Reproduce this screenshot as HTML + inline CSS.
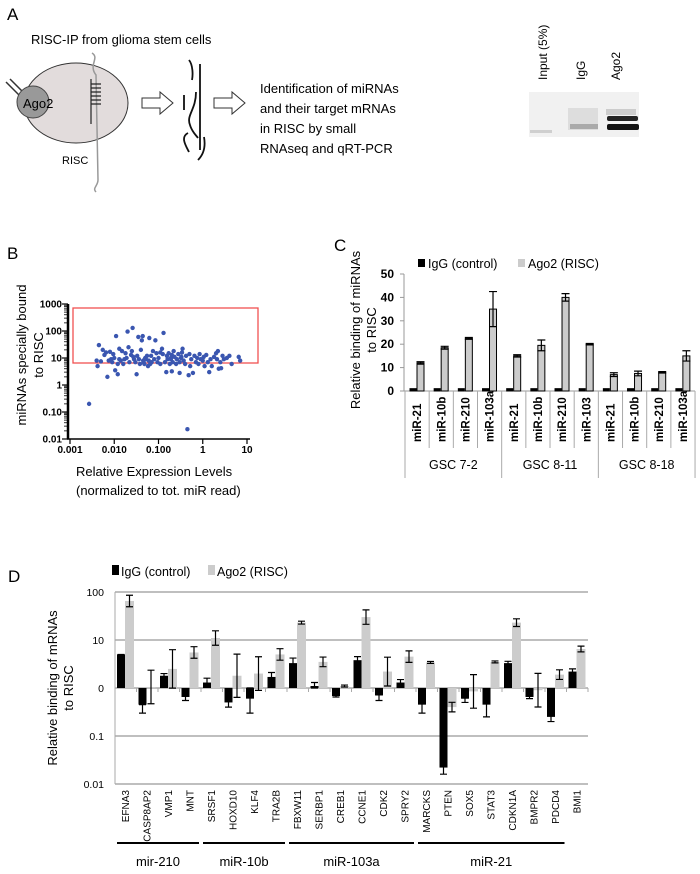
<!DOCTYPE html>
<html><head><meta charset="utf-8"><style>
html,body{margin:0;padding:0;background:#fff;}
svg{display:block;font-family:"Liberation Sans",sans-serif;}
</style></head><body>
<svg id="fig" width="700" height="874" viewBox="0 0 700 874">
<!-- Panel A -->
<g>
<text x="7" y="20" font-size="17">A</text>
<text x="31" y="44" font-size="13">RISC-IP from glioma stem cells</text>
<ellipse cx="76" cy="103" rx="52" ry="40" fill="#e2dcdc" stroke="#333" stroke-width="1"/>
<path d="M6,82 L20,96 M10,79 L24,93 L32,88" stroke="#333" stroke-width="1.5" fill="none"/>
<circle cx="33" cy="102" r="16" fill="#999" stroke="#444"/>
<text x="23" y="108" font-size="13">Ago2</text>
<path d="M92,53 C100,58 88,65 96,75 L98,180 C98,186 92,188 96,192" stroke="#999" stroke-width="1.5" fill="none"/>
<path d="M91,79 L91,124 M91,84 H101 M91,88 H101 M91,92 H101 M91,96 H101 M91,100 H101 M91,104 H101" stroke="#222" stroke-width="1.2" fill="none"/>
<text x="62" y="164" font-size="11">RISC</text>
<path d="M142,98 H160 V92 L173,103 L160,114 V108 H142 Z" fill="#fff" stroke="#333"/>
<path d="M214,98 H232 V92 L245,103 L232,114 V108 H214 Z" fill="#fff" stroke="#333"/>
<path d="M189,60 C193,65 193,75 192,80 M200,64 V150 M184,95 V110 M196,92 C196,110 186,115 190,125 C192,132 196,135 198,138 M188,133 C180,137 186,146 189,152 M204,137 C206,148 203,155 198,160" stroke="#111" stroke-width="1.8" fill="none"/>
<text font-size="13"><tspan x="260" y="93">Identification of miRNAs</tspan><tspan x="260" y="113">and their target mRNAs</tspan><tspan x="260" y="133">in RISC by small</tspan><tspan x="260" y="153">RNAseq and qRT-PCR</tspan></text>
<rect x="529" y="92" width="110" height="45" fill="#f1f1f1"/>
<rect x="568" y="108" width="30" height="22" fill="#d8d8d8" opacity="0.8"/>
<rect x="530" y="130" width="22" height="3" fill="#cfcfcf"/>
<rect x="570" y="124" width="28" height="5" fill="#aaa"/>
<rect x="606" y="109" width="30" height="6" fill="#ccc"/>
<rect x="607" y="116" width="31" height="5" fill="#222" rx="2"/>
<rect x="607" y="124" width="32" height="6" fill="#111" rx="2"/>
<text transform="translate(547,80) rotate(-90)" font-size="12">Input (5%)</text>
<text transform="translate(585,80) rotate(-90)" font-size="12">IgG</text>
<text transform="translate(620,80) rotate(-90)" font-size="12">Ago2</text>
</g>
<!-- Panel B -->
<g id="pb">
<text x="7" y="259" font-size="17">B</text>
<text transform="translate(26,355) rotate(-90)" font-size="13" text-anchor="middle">miRNAs specially bound</text>
<text transform="translate(43,355) rotate(-90)" font-size="13" text-anchor="middle">to RISC</text>
<text x="76" y="476" font-size="13">Relative Expression Levels</text>
<text x="76" y="495" font-size="13">(normalized to tot. miR read)</text>
</g>
<!-- Panel C -->
<g id="pc">
<text x="334" y="251" font-size="17">C</text>
<text transform="translate(360,330) rotate(-90)" font-size="13" text-anchor="middle">Relative binding of miRNAs</text>
<text transform="translate(376,330) rotate(-90)" font-size="13" text-anchor="middle">to RISC</text>
<rect x="418" y="259" width="7" height="8" fill="#000"/>
<text x="428" y="268" font-size="12.5">IgG (control)</text>
<rect x="518" y="259" width="7" height="8" fill="#ccc"/>
<text x="528" y="268" font-size="12.5">Ago2 (RISC)</text>
</g>
<!-- Panel D -->
<g id="pd">
<text x="8" y="582" font-size="17">D</text>
<text transform="translate(57,688) rotate(-90)" font-size="13" text-anchor="middle">Relative binding of mRNAs</text>
<text transform="translate(73,688) rotate(-90)" font-size="13" text-anchor="middle">to RISC</text>
<rect x="112" y="565" width="7" height="10" fill="#000"/>
<text x="121" y="576" font-size="12.5">IgG (control)</text>
<rect x="208" y="565" width="7" height="10" fill="#ccc"/>
<text x="217" y="576" font-size="12.5">Ago2 (RISC)</text>
</g>
</svg>
<script>
// ---------- Panel B data ----------
const bX=[0.0027,0.004,0.0042,0.0045,0.005,0.0055,0.006,0.0065,0.007,0.0075,0.008,0.009,0.0095,0.01,0.0105,0.011,0.012,0.012,0.013,0.013,0.014,0.015,0.016,0.017,0.018,0.019,0.02,0.021,0.022,0.024,0.025,0.026,0.028,0.03,0.032,0.033,0.035,0.036,0.038,0.04,0.042,0.044,0.045,0.048,0.05,0.052,0.055,0.058,0.06,0.062,0.065,0.068,0.07,0.075,0.08,0.085,0.09,0.095,0.1,0.11,0.12,0.125,0.13,0.14,0.15,0.155,0.16,0.17,0.18,0.19,0.2,0.2,0.21,0.22,0.23,0.25,0.26,0.28,0.3,0.3,0.32,0.34,0.35,0.37,0.4,0.42,0.45,0.48,0.5,0.52,0.55,0.6,0.65,0.7,0.75,0.8,0.85,0.9,1.0,1.05,1.1,1.2,1.3,1.4,1.5,1.6,1.8,2.0,2.1,2.2,2.3,2.5,2.6,2.8,3.0,3.5,4.0,4.5,6.5,7.0,0.0085,0.027,0.046,0.11,0.19,0.33,0.6,1.25];
const bY=[0.2,8,5,30,7.5,20,13,16,2,8,17,7,14,10,3.5,65,6,2.5,9,22,8,18,6,9,15,10,95,25,7,13,18,130,9,7,2.5,12,60,9,6,20,45,65,8,6,10,9,12,5,8,55,6,12,7,18,9,45,15,7,10,6,22,14,85,7,3,12,9,15,6,10,13,3.2,7,18,11,6,9,14,2.8,7,10,16,22,8,6,12,0.023,2.3,14,5,9,2.8,12,7,10,6,14,9,8,11,5,13,7,3,9,5,11,15,9,18,4,7,4.2,12,9,10,12,6,11,8,9,11,7,16,9,11];
const bYTicks=[1000,100,10,1,0.1,0.01];
const bYTickLabels=["1000","100","10","1","0.10","0.01"];
const bXTicks=[0.001,0.01,0.1,1,10];
const bXTickLabels=["0.001","0.010","0.100","1","10"];
// ---------- Panel C data ----------
const cCats=["miR-21","miR-10b","miR-210","miR-103a","miR-21","miR-10b","miR-210","miR-103","miR-21","miR-10b","miR-210","miR-103a"];
const cGroups=["GSC 7-2","GSC 8-11","GSC 8-18"];
const cIgG=[1,1,1,1,1,1,1,1,1,1,1,1];
const cAgo2=[12,18.5,22.5,35,15,19.5,40,20,7,7.5,8,15];
const cAgo2Err=[0.5,0.6,0.4,7.5,0.5,2.3,1.6,0.3,0.8,1,0.3,2.2];
const cYTicks=[0,10,20,30,40,50];
// ---------- Panel D data ----------
const dGenes=["EFNA3","CASP8AP2","VMP1","MNT","SRSF1","HOXD10","KLF4","TRA2B","FBXW11","SERBP1","CREB1","CCNE1","CDK2","SPRY2","MARCKS","PTEN","SOX5","STAT3","CDKN1A","BMPR2","PDCD4","BMI1"];
const dIgG=[5,0.45,1.8,0.65,1.3,0.5,0.6,1.7,3.3,1.1,0.68,3.8,0.7,1.3,0.45,0.022,0.6,0.45,3.3,0.65,0.25,2.2];
const dIgGErrHi=[5,0.45,2,0.7,1.6,0.55,1,2.1,4.2,1.3,0.7,4.5,0.72,1.5,0.48,0.025,0.62,0.48,3.6,0.7,0.27,2.5];
const dIgGErrLo=[5,0.3,1.6,0.55,1.1,0.4,0.3,1.4,2.5,1,0.65,3,0.55,1.1,0.3,0.016,0.5,0.25,3,0.6,0.2,2];
const dAgo2=[65,1.05,2.5,5.5,11,1.8,2,5,23,3.5,1.1,30,2.2,4.5,3.4,0.4,0.85,3.5,23,0.9,1.9,6.5];
const dAgo2Err=[0.12,0.35,0.4,0.12,0.15,0.45,0.35,0.12,0.03,0.1,0.02,0.15,0.3,0.12,0.02,0.1,0.35,0.02,0.08,0.35,0.1,0.06];
const dYTicks=[100,10,1,0.1,0.01];
const dYTickLabels=["100","10","0","0.1","0.01"];
const dGroupNames=["mir-210","miR-10b","miR-103a","miR-21"];
const dGroupStart=[0,4,8,14];
const dGroupEnd=[3,7,13,20];

const NS="http://www.w3.org/2000/svg";
function mk(parent,tag,attrs,text){const e=document.createElementNS(NS,tag);for(const k in attrs)e.setAttribute(k,attrs[k]);if(text!==undefined)e.textContent=text;parent.appendChild(e);return e;}

// Panel B
const pb=document.getElementById('pb');
const bx=v=>70+(Math.log10(v)+3)*44.25;
const by=v=>385-Math.log10(v)*27;
let e=mk(pb,'line',{x1:68,y1:by(1000),x2:68,y2:439,stroke:'#000','stroke-width':2.5});


e=mk(pb,'line',{x1:67,y1:439,x2:250,y2:439,stroke:'#000','stroke-width':1.5});


bYTicks.forEach((t,i)=>{
  const y=by(t);
  for(let m=1;m<10&&t<1000;m++){const yy=by(t*m);mk(pb,'line',{x1:64,y1:yy,x2:68,y2:yy,stroke:'#000','stroke-width':0.8});}
  mk(pb,'line',{x1:62,y1:y,x2:68,y2:y,stroke:'#000','stroke-width':1.2});
  const tl=mk(pb,'text',{x:62,y:y+3.5,'font-size':10,'font-weight':'bold','text-anchor':'end'},bYTickLabels[i]);
  
  
});
bXTicks.forEach((t,i)=>{
  const x=bx(t);
  mk(pb,'line',{x1:x,y1:439,x2:x,y2:444,stroke:'#000','stroke-width':1.2});
  const tl=mk(pb,'text',{x:x,y:453,'font-size':10,'font-weight':'bold','text-anchor':'middle'},bXTickLabels[i]);
  
  
});
e=mk(pb,'rect',{x:73,y:308,width:185,height:55,fill:'none',stroke:'#f05050','stroke-width':1.3});


const nB=Math.min(bX.length,bY.length);
for(let i=0;i<nB;i++){
  const c=mk(pb,'circle',{cx:bx(bX[i]),cy:by(bY[i]),r:2.2,fill:'#3a56b0'});
  
  
}

// Panel C
const pc=document.getElementById('pc');
const cy=v=>391-v*2.34;
const cx0=405, cw=24.17;
cYTicks.forEach(t=>{
  const tl=mk(pc,'text',{x:394,y:cy(t)+4,'font-size':12,'font-weight':'bold','text-anchor':'end'},String(t));
  
  
  mk(pc,'line',{x1:400,y1:cy(t),x2:404,y2:cy(t),stroke:'#999'});
});
e=mk(pc,'line',{x1:404,y1:cy(50),x2:404,y2:391,stroke:'#999'});


e=mk(pc,'line',{x1:400,y1:391,x2:cx0+cw*12,y2:391,stroke:'#999'});


cCats.forEach((c,i)=>{
  const x=cx0+i*cw;
  mk(pc,'line',{x1:x+cw,y1:391,x2:x+cw,y2:(i%4===3)?478:448,stroke:'#aaa'});
  const b1=mk(pc,'rect',{x:x+5,y:cy(cIgG[i]),width:6,height:391-cy(cIgG[i]),fill:'#000',stroke:'#000'});
  
  
  const b2=mk(pc,'rect',{x:x+12,y:cy(cAgo2[i]),width:7,height:391-cy(cAgo2[i]),fill:'#ccc',stroke:'#000','stroke-width':1});
  
  
  const xm=x+15.5, yh=cy(cAgo2[i]+cAgo2Err[i]), yl=cy(cAgo2[i]-cAgo2Err[i]);
  mk(pc,'path',{d:`M${xm},${yh}V${yl}M${xm-4},${yh}H${xm+4}M${xm-4},${yl}H${xm+4}`,stroke:'#000','stroke-width':1.2,fill:'none'});
  const tl=mk(pc,'text',{transform:`translate(${x+cw/2+4},442) rotate(-90)`,'font-size':11.5,'font-weight':'bold'},c);
  
  
});
mk(pc,'line',{x1:cx0,y1:391,x2:cx0,y2:478,stroke:'#aaa'});
cGroups.forEach((g,i)=>{
  const tl=mk(pc,'text',{x:cx0+(i*4+2)*cw,y:469,'font-size':12.5,'text-anchor':'middle'},g);
  
  
});

// Panel D
const pd=document.getElementById('pd');
const dy=v=>688-Math.log10(v)*48;
const dx0=115, dw=21.5;
dYTicks.forEach((t,i)=>{
  const g=mk(pd,'line',{x1:dx0,y1:dy(t),x2:588,y2:dy(t),stroke:'#aaa','stroke-width':1.5});
  
  
  const tl=mk(pd,'text',{x:104,y:dy(t)+4,'font-size':10.5,'text-anchor':'end'},dYTickLabels[i]);
  
  
});
mk(pd,'line',{x1:dx0,y1:dy(100),x2:dx0,y2:dy(0.01),stroke:'#aaa','stroke-width':1});
const base=dy(1);
dGenes.forEach((g,i)=>{
  const x=dx0+i*dw;
  mk(pd,'line',{x1:x+dw,y1:base,x2:x+dw,y2:base+4,stroke:'#aaa'});
  const y1=dy(dIgG[i]);
  const b1=mk(pd,'rect',{x:x+2,y:Math.min(y1,base),width:8,height:Math.abs(base-y1),fill:'#000'});
  
  
  const xm=x+6, eh=dy(dIgGErrHi[i]), el=dy(dIgGErrLo[i]);
  mk(pd,'path',{d:`M${xm},${eh}V${el}M${xm-3.5},${eh}H${xm+3.5}M${xm-3.5},${el}H${xm+3.5}`,stroke:'#000','stroke-width':1.2,fill:'none'});
  const y2=dy(dAgo2[i]);
  const b2=mk(pd,'rect',{x:x+10,y:Math.min(y2,base),width:9,height:Math.max(1,Math.abs(base-y2)),fill:'#ccc'});
  
  
  const xa=x+14.5, ah=y2-dAgo2Err[i]*48, al=y2+dAgo2Err[i]*48;
  mk(pd,'path',{d:`M${xa},${ah}V${al}M${xa-3.5},${ah}H${xa+3.5}M${xa-3.5},${al}H${xa+3.5}`,stroke:'#000','stroke-width':1.2,fill:'none'});
  const tl=mk(pd,'text',{transform:`translate(${x+dw/2+3},790) rotate(-90)`,'font-size':10,'text-anchor':'end'},g);
  
  
});
dGroupNames.forEach((n,i)=>{
  const xs=dx0+dGroupStart[i]*dw+2, xe=dx0+(dGroupEnd[i]+1)*dw-2;
  const l=mk(pd,'line',{x1:xs,y1:843,x2:xe,y2:843,stroke:'#000','stroke-width':2});
  
  
  const tl=mk(pd,'text',{x:(xs+xe)/2,y:866,'font-size':13,'text-anchor':'middle'},n);
  
  
});
</script>
</body></html>
